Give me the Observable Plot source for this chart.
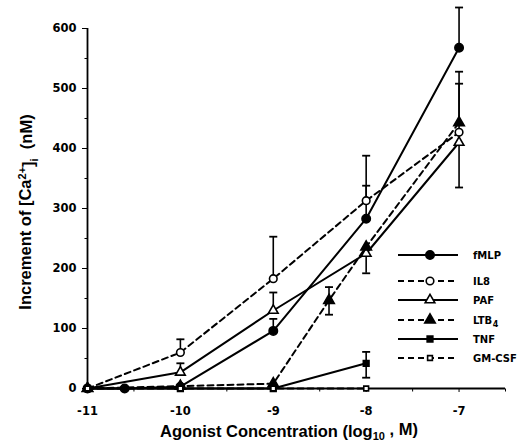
<!DOCTYPE html>
<html>
<head>
<meta charset="utf-8">
<script src="https://cdn.jsdelivr.net/npm/d3@7"></script>
<script src="https://cdn.jsdelivr.net/npm/@observablehq/plot@0.6"></script>
<style>
  html, body { margin: 0; padding: 0; background: #fff; }
  #chart { position: relative; width: 529px; height: 448px; }
</style>
</head>
<body>
<div id="chart"></div>
<script>
// ---- Data (log10 M concentration, increment of [Ca2+]i in nM) ----
const xTicks = [-11, -10, -9, -8, -7];
const xMinorTicks = [-10.5, -9.5, -8.5, -7.5, -6.5];
const yTicks = [0, 100, 200, 300, 400, 500, 600];
const yMinorTicks = [50, 150, 250, 350, 450, 550];

const fmlpX = [-11, -10.6, -10, -9, -8, -7];
const fmlpY = [0, 0, 3, 96, 283, 568];
const fmlpErrUp = [0, 0, 0, 20, 55, 67];
const fmlpErrDown = [0, 0, 0, 0, 0, 0];

const il8X = [-11, -10, -9, -8, -7];
const il8Y = [0, 60, 183, 313, 427];
const il8ErrUp = [0, 22, 70, 75, 81];
const il8ErrDown = [0, 0, 0, 0, 0];

const pafX = [-11, -10, -9, -8, -7];
const pafY = [0, 27, 130, 225, 410];
const pafErrUp = [0, 15, 30, 0, 0];
const pafErrDown = [0, 0, 0, 33, 75];

const ltb4X = [-11, -10, -9, -8.4, -8, -7];
const ltb4Y = [0, 4, 8, 147, 236, 443];
const ltb4ErrUp = [0, 0, 0, 22, 0, 85];
const ltb4ErrDown = [0, 0, 0, 24, 0, 0];

const tnfX = [-11, -10, -9, -8];
const tnfY = [0, 0, 0, 42];
const tnfErrUp = [0, 0, 0, 19];
const tnfErrDown = [0, 0, 0, 24];

const gmcsfX = [-11, -10, -9, -8];
const gmcsfY = [0, 0, 0, 0];

const seriesNames = ["fMLP", "IL8", "PAF", "LTB4", "TNF", "GM-CSF"];

// ---- Build tables ----
const series = [
  {name: "fMLP", x: fmlpX, y: fmlpY, up: fmlpErrUp, down: fmlpErrDown, dash: null, symbol: "circle", fill: "black", r: 4.2},
  {name: "IL8", x: il8X, y: il8Y, up: il8ErrUp, down: il8ErrDown, dash: "6,4", symbol: "circle", fill: "white", r: 3.8},
  {name: "PAF", x: pafX, y: pafY, up: pafErrUp, down: pafErrDown, dash: null, symbol: "triangle", fill: "white", r: 3.6},
  {name: "LTB4", x: ltb4X, y: ltb4Y, up: ltb4ErrUp, down: ltb4ErrDown, dash: "6,4", symbol: "triangle", fill: "black", r: 3.9},
  {name: "TNF", x: tnfX, y: tnfY, up: tnfErrUp, down: tnfErrDown, dash: null, symbol: "square", fill: "black", r: 3.2},
  {name: "GM-CSF", x: gmcsfX, y: gmcsfY, up: null, down: null, dash: "6,4", symbol: "square", fill: "white", r: 2.7}
];

const rows = s => s.x.map((x, i) => ({x, y: s.y[i]}));
const bars = [], caps = [];
for (const s of series) {
  s.x.forEach((x, i) => {
    const y = s.y[i];
    if (s.up && s.up[i] > 0) { bars.push({x, y1: y, y2: y + s.up[i]}); caps.push({x, y: y + s.up[i]}); }
    if (s.down && s.down[i] > 0) { bars.push({x, y1: y - s.down[i], y2: y}); caps.push({x, y: y - s.down[i]}); }
  });
}

// custom tick-like symbols
const hLine = {draw(ctx, size) { const r = Math.sqrt(size / Math.PI); ctx.moveTo(-r, 0); ctx.lineTo(r, 0); }};
const hLeft = {draw(ctx, size) { const r = Math.sqrt(size / Math.PI); ctx.moveTo(-r, 0); ctx.lineTo(0, 0); }};
const vDown = {draw(ctx, size) { const r = Math.sqrt(size / Math.PI); ctx.moveTo(0, 0); ctx.lineTo(0, r); }};

const font = "'Liberation Sans', Arial, Helvetica, sans-serif";
const wideFont = "'DejaVu Sans', Verdana, sans-serif";

const marks = [
  Plot.ruleX([xTicks[0]], {stroke: "black", strokeWidth: 1.8}),
  Plot.ruleY([yTicks[0]], {stroke: "black", strokeWidth: 1.8}),
  Plot.dot(yMinorTicks, {x: () => xTicks[0], y: d => d, symbol: hLeft, r: 3, stroke: "black", strokeWidth: 1, fill: "none"}),
  Plot.dot(xMinorTicks, {x: d => d, y: () => yTicks[0], symbol: vDown, r: 3, stroke: "black", strokeWidth: 1, fill: "none"}),
];
for (const s of series) {
  marks.push(Plot.line(rows(s), {x: "x", y: "y", stroke: "black", strokeWidth: 2, strokeDasharray: s.dash || undefined}));
}
marks.push(Plot.ruleX(bars, {x: "x", y1: "y1", y2: "y2", stroke: "black", strokeWidth: 1.6}));
marks.push(Plot.dot(caps, {x: "x", y: "y", symbol: hLine, r: 4, stroke: "black", strokeWidth: 1.8, fill: "none"}));
for (const s of series) {
  marks.push(Plot.dot(rows(s), {x: "x", y: "y", symbol: s.symbol, r: s.r, fill: s.fill, stroke: "black", strokeWidth: 1.6}));
}

const svgEl = Plot.plot({
  width: 529,
  height: 448,
  marginLeft: 87,
  marginRight: 24,
  marginTop: 28,
  marginBottom: 60,
  style: {fontFamily: wideFont, fontWeight: "bold", fontSize: "11px", color: "black", background: "white", overflow: "visible"},
  x: {domain: [-11, -6.5], ticks: xTicks, tickFormat: d => String(d), tickSize: 4, tickPadding: 14, label: null},
  y: {domain: [0, 600], ticks: yTicks, tickFormat: d => String(d), tickSize: 5, tickPadding: 6, label: null},
  marks
});

document.getElementById("chart").appendChild(svgEl);

// ---- Axis titles and legend (annotations) ----
const svg = d3.select(svgEl);
svg.selectAll("text")
  .style("font-size", "11.5px").style("font-weight", "bold").style("font-family", wideFont);

const yl = svg.append("text")
  .attr("transform", "translate(31,212) rotate(-90)")
  .attr("text-anchor", "middle")
  .attr("font-family", font).attr("font-weight", "bold").attr("font-size", 16.5).attr("fill", "black");
yl.append("tspan").text("Increment of [Ca");
yl.append("tspan").attr("dy", "-0.5em").attr("font-size", 11).text("2+");
yl.append("tspan").attr("dy", "0.5em").text("]");
yl.append("tspan").attr("dy", "0.35em").attr("font-size", 11).text("i");
yl.append("tspan").attr("dy", "-0.35em").text("  (nM)");

const xl = svg.append("text")
  .attr("x", 289).attr("y", 437)
  .attr("text-anchor", "middle")
  .attr("font-family", font).attr("font-weight", "bold").attr("font-size", 16.5).attr("fill", "black");
xl.append("tspan").text("Agonist Concentration (log");
xl.append("tspan").attr("dy", "0.3em").attr("font-size", 11).text("10");
xl.append("tspan").attr("dy", "-0.3em").text(" , M)");

const legendY = [255, 281, 300, 320, 339, 358];
const lg = svg.append("g").attr("text-anchor", "start");
series.forEach((s, i) => {
  const y = legendY[i];
  lg.append("line").attr("x1", 398).attr("x2", 458).attr("y1", y).attr("y2", y)
    .attr("stroke", "black").attr("stroke-width", 2)
    .attr("stroke-dasharray", s.dash || null);
  const sym = {circle: d3.symbolCircle, triangle: d3.symbolTriangle, square: d3.symbolSquare}[s.symbol];
  lg.append("path").attr("d", d3.symbol(sym, Math.PI * s.r * s.r)())
    .attr("transform", `translate(430,${y})`)
    .attr("fill", s.fill).attr("stroke", "black").attr("stroke-width", 1.6);
  const t = lg.append("text").attr("x", 473).attr("y", y).attr("dy", "0.35em")
    .attr("text-anchor", "start")
    .attr("font-family", wideFont).attr("font-weight", "bold").attr("font-size", 10).attr("fill", "black");
  if (seriesNames[i] === "LTB4") {
    t.append("tspan").text("LTB");
    t.append("tspan").attr("dy", "0.4em").attr("dx", 0.5).attr("font-size", 8).text("4");
  } else {
    t.text(seriesNames[i]);
  }
});
</script>
</body>
</html>
